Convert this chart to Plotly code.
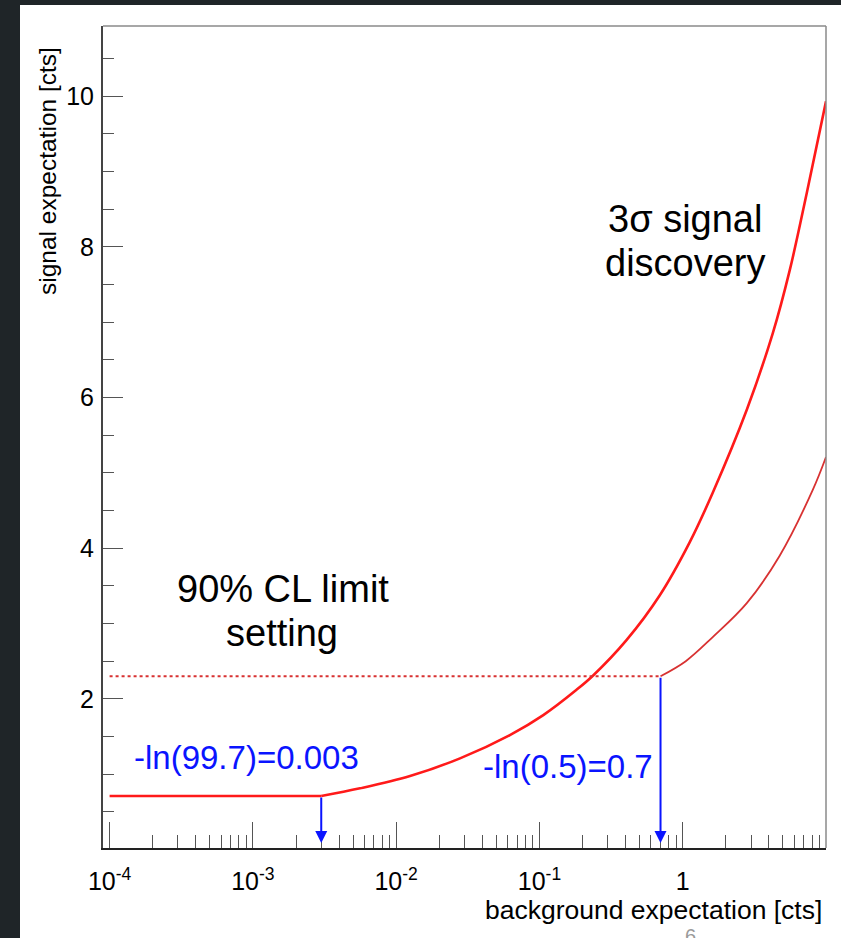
import math
import plotly.graph_objects as go

# ---- data ----
# 3 sigma discovery curve (thick red): flat part and rising part
disc_flat_b = [1e-4, 0.003]
disc_flat_s = [0.71, 0.71]
disc_b = [0.003, 0.0056, 0.0125, 0.0279, 0.0622, 0.1064, 0.1815, 0.237, 0.405, 0.692, 1.12, 1.62, 2.80, 4.25, 5.58, 7.33, 10.0]
disc_s = [0.71, 0.812, 0.975, 1.21, 1.519, 1.784, 2.12, 2.31, 2.779, 3.375, 4.08, 4.735, 5.836, 6.85, 7.686, 8.707, 9.93]

# 90% CL limit curve (thin red): dotted plateau and rising part
lim_flat_b = [1e-4, 0.7]
lim_flat_s = [2.3, 2.3]
lim_b = [0.7, 1.05, 1.62, 2.80, 4.75, 8.07, 10.0]
lim_s = [2.3, 2.50, 2.82, 3.27, 3.90, 4.77, 5.21]

# arrows (background value, signal value at the curve)
arrow_b = [0.003, 0.7]
arrow_top = [0.71, 2.3]
arrow_bottom = 0.086

x_major = [1e-4, 1e-3, 1e-2, 1e-1, 1]
x_major_text = ["10<sup>-4</sup>", "10<sup>-3</sup>", "10<sup>-2</sup>", "10<sup>-1</sup>", "1"]
x_minor = [m * 10.0 ** k for k in range(-4, 1) for m in range(2, 10)]
y_major = [2, 4, 6, 8, 10]

FONT = "Liberation Sans, Arial, Helvetica, sans-serif"
RED = "#ff1a1a"
RED2 = "#d83232"
BLUE = "#0a14ff"

fig = go.Figure()
fig.add_trace(go.Scatter(x=disc_flat_b, y=disc_flat_s, mode="lines",
                         line=dict(color=RED, width=2.6), showlegend=False))
fig.add_trace(go.Scatter(x=disc_b, y=disc_s, mode="lines",
                         line=dict(color=RED, width=2.6, shape="spline", smoothing=1.0), showlegend=False))
fig.add_trace(go.Scatter(x=lim_flat_b, y=lim_flat_s, mode="lines",
                         line=dict(color=RED2, width=2, dash="dot"), showlegend=False))
fig.add_trace(go.Scatter(x=lim_b, y=lim_s, mode="lines",
                         line=dict(color=RED2, width=1.8, shape="spline", smoothing=1.0), showlegend=False))

annotations = []
for b, top in zip(arrow_b, arrow_top):
    annotations.append(dict(x=math.log10(b), y=arrow_bottom, xref="x", yref="y",
                            ax=math.log10(b), ay=top, axref="x", ayref="y",
                            text="", showarrow=True, arrowhead=2, arrowsize=1.2,
                            arrowwidth=2, arrowcolor=BLUE, standoff=0, startstandoff=0))

def label(text, xpx, ypx, size, color="black", xanchor="center"):
    # positions given in pixels of the 841x938 page, converted to paper coords
    return dict(text=text, x=(xpx - 103) / 723, y=(848 - ypx) / 822, xref="paper", yref="paper",
                showarrow=False, xanchor=xanchor, yanchor="middle",
                font=dict(family=FONT, size=size, color=color))

annotations += [
    label("3σ signal", 685, 219, 38),
    label("discovery", 685, 263, 38),
    label("90% CL limit", 283, 589, 38),
    label("setting", 282, 633, 38),
    label("-ln(99.7)=0.003", 246, 757, 33, BLUE),
    label("-ln(0.5)=0.7", 568, 766, 33, BLUE),
    label("background expectation [cts]", 824, 910, 26.5, xanchor="right"),
    label("6", 690, 936, 20, "#9a9a9a"),
]
annotations.append(dict(text="signal expectation [cts]", textangle=-90,
                        x=(48 - 103) / 723, y=(848 - 171) / 822, xref="paper", yref="paper",
                        showarrow=False, xanchor="center", yanchor="middle",
                        font=dict(family=FONT, size=24.5, color="black")))

shapes = [
    # white slide area over the dark frame
    dict(type="rect", xref="paper", yref="paper", x0=(20 - 103) / 723, x1=(841 - 103) / 723 + 0.01,
         y0=(848 - 940) / 822, y1=(848 - 5) / 822, fillcolor="white", line=dict(width=0), layer="below"),
    # top and right frame lines (grey)
    dict(type="line", xref="paper", yref="paper", x0=0, x1=1, y0=1, y1=1, line=dict(color="#8a8a8a", width=1.5)),
    dict(type="line", xref="paper", yref="paper", x0=1, x1=1, y0=0, y1=1, line=dict(color="#8a8a8a", width=1.5)),
]

fig.update_layout(
    width=841, height=938,
    margin=dict(l=103, r=15, t=26, b=90),
    paper_bgcolor="#1f2528",
    plot_bgcolor="white",
    font=dict(family=FONT, color="black"),
    annotations=annotations,
    shapes=shapes,
    showlegend=False,
)
fig.update_xaxes(type="log", range=[-4.046, 1.0], showgrid=False, zeroline=False,
                 showline=True, linecolor="#222222", linewidth=2,
                 tickmode="array", tickvals=x_major, ticktext=x_major_text,
                 ticks="inside", ticklen=26, tickwidth=1.3, tickcolor="#555555",
                 tickfont=dict(family=FONT, size=25, color="black"), ticklabelstandoff=10,
                 minor=dict(tickmode="array", tickvals=x_minor, ticks="inside", ticklen=13,
                            tickwidth=1.2, tickcolor="#555555", showgrid=False))
fig.update_yaxes(range=[0.02, 10.93], showgrid=False, zeroline=False,
                 showline=True, linecolor="#444444", linewidth=2,
                 tickmode="array", tickvals=y_major,
                 ticks="inside", ticklen=20, tickwidth=1.3, tickcolor="#555555",
                 tickfont=dict(family=FONT, size=25, color="black"), ticklabelstandoff=2,
                 minor=dict(dtick=0.5, tick0=0, ticks="inside", ticklen=11,
                            tickwidth=1.2, tickcolor="#555555", showgrid=False))

fig.write_html("out.html")
